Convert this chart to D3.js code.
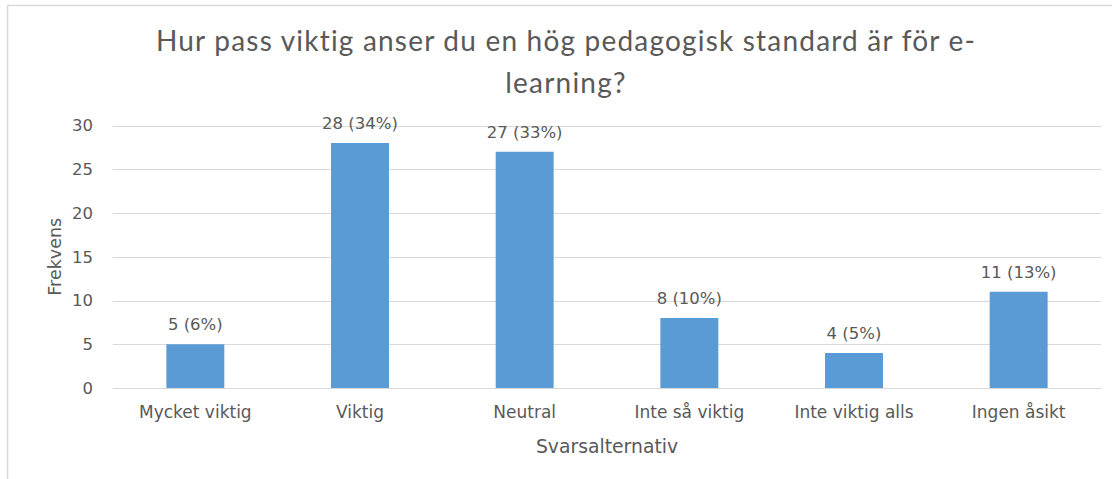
<!DOCTYPE html>
<html>
<head>
<meta charset="utf-8">
<script src="https://cdn.jsdelivr.net/npm/d3@7"></script>
<style>
  body { margin: 0; background: #fff; }
  text { fill: #595959; }
</style>
</head>
<body>
<script>
// data
const categories = ['Mycket viktig', 'Viktig', 'Neutral', 'Inte så viktig', 'Inte viktig alls', 'Ingen åsikt'];
const counts = [5, 28, 27, 8, 4, 11];
const percents = [6, 34, 33, 10, 5, 13];
const yTicks = [0, 5, 10, 15, 20, 25, 30];
const titleLines = ['Hur pass viktig anser du en hög pedagogisk standard är för e-', 'learning?'];

// constants
const width = 1112;
const height = 479;
const margin = { top: 125.5, bottom: 91, left: 113, right: 11 };
const labelFont = "'DejaVu Sans', sans-serif";

const svg = d3.select('body').append('svg')
  .attr('width', width).attr('height', height);

// chart border
svg.append('rect')
  .attr('x', 7.5).attr('y', 5.5)
  .attr('width', width + 10).attr('height', height + 10)
  .attr('fill', 'none').attr('stroke', '#d9d9d9').attr('stroke-width', 1.5);

// scales
const xScale = d3.scaleBand()
  .domain(categories)
  .range([margin.left, width - margin.right])
  .paddingInner(0.648)
  .paddingOuter(0.324);

const yScale = d3.scaleLinear()
  .domain([0, 30])
  .range([height - margin.bottom, margin.top]);

// gridlines
svg.append('g').selectAll('line').data(yTicks).enter().append('line')
  .attr('x1', margin.left).attr('x2', width - margin.right)
  .attr('y1', d => Math.round(yScale(d)) + 0.5).attr('y2', d => Math.round(yScale(d)) + 0.5)
  .attr('stroke', '#d9d9d9').attr('stroke-width', 1.2);

// y axis labels
const yAxis = svg.append('g')
  .attr('transform', `translate(${margin.left}, 0)`)
  .call(d3.axisLeft(yScale).tickValues(yTicks).tickSize(0).tickPadding(20));
yAxis.select('.domain').remove();
yAxis.selectAll('text')
  .attr('font-family', labelFont).attr('font-size', 16.5).style('fill', '#595959');

// x axis labels
const xAxis = svg.append('g')
  .attr('transform', `translate(0, ${height - margin.bottom})`)
  .call(d3.axisBottom(xScale).tickSize(0).tickPadding(18));
xAxis.select('.domain').remove();
xAxis.selectAll('text')
  .attr('font-family', labelFont).attr('font-size', 17).style('fill', '#595959');

// bars
svg.append('g').selectAll('rect').data(counts).enter().append('rect')
  .attr('x', (d, i) => xScale(categories[i]))
  .attr('y', d => yScale(d))
  .attr('width', xScale.bandwidth())
  .attr('height', d => yScale(0) - yScale(d))
  .attr('fill', '#5b9bd5');

// data labels
svg.append('g').selectAll('text').data(counts).enter().append('text')
  .attr('x', (d, i) => xScale(categories[i]) + xScale.bandwidth() / 2)
  .attr('y', d => yScale(d) - 14)
  .attr('text-anchor', 'middle')
  .attr('font-family', labelFont).attr('font-size', 16.5)
  .text((d, i) => `${d} (${percents[i]}%)`);

// title
svg.append('text')
  .attr('x', 565).attr('y', 51)
  .attr('text-anchor', 'middle')
  .attr('font-family', 'Lato, sans-serif').attr('font-size', 28)
  .attr('letter-spacing', 1.2)
  .selectAll('tspan').data(titleLines).enter().append('tspan')
  .attr('x', 566).attr('dy', (d, i) => i === 0 ? 0 : 42)
  .text(d => d);

// axis titles
svg.append('text')
  .attr('x', (margin.left + width - margin.right) / 2).attr('y', 453)
  .attr('text-anchor', 'middle')
  .attr('font-family', labelFont).attr('font-size', 18.8)
  .text('Svarsalternativ');

svg.append('text')
  .attr('transform', `translate(61, ${(yScale(0) + yScale(30)) / 2}) rotate(-90)`)
  .attr('text-anchor', 'middle')
  .attr('font-family', labelFont).attr('font-size', 17.5)
  .text('Frekvens');
</script>
</body>
</html>
